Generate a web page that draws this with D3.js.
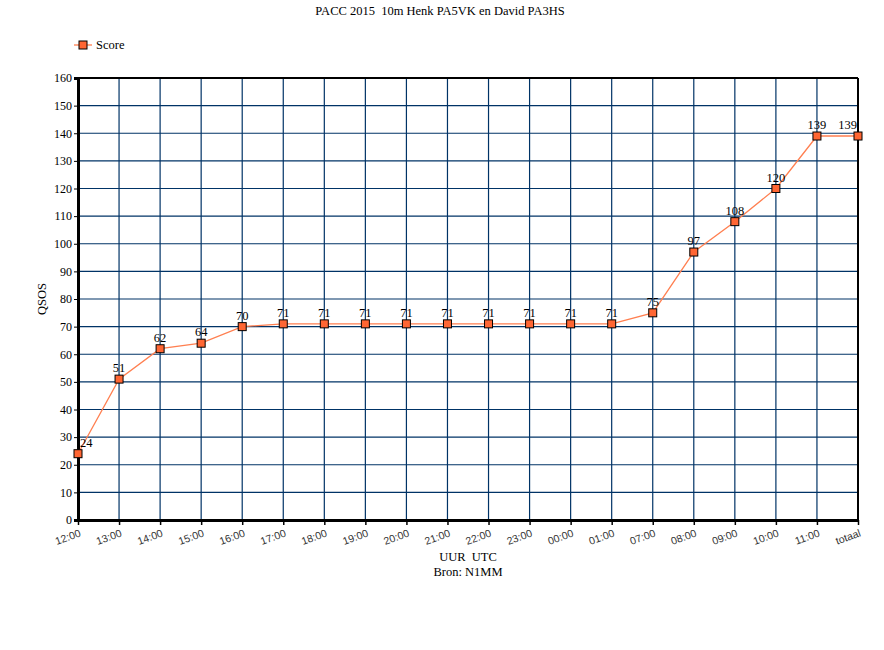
<!DOCTYPE html>
<html><head><meta charset="utf-8">
<script src="https://cdn.jsdelivr.net/npm/d3@7"></script>
<style>body{margin:0;background:#fff}svg{display:block}text{white-space:pre}</style>
</head><body>
<svg id="c" width="884" height="650"></svg>
<script>
const categories = ["12:00","13:00","14:00","15:00","16:00","17:00","18:00","19:00","20:00","21:00","22:00","23:00","00:00","01:00","07:00","08:00","09:00","10:00","11:00","totaal"];
const scores = [24,51,62,64,70,71,71,71,71,71,71,71,71,71,75,97,108,120,139,139];
const yTicks = d3.range(0,161,10);
const title = "PACC 2015  10m Henk PA5VK en David PA3HS";
const seriesName = "Score";

const svg = d3.select("#c");
const L=78,R=858,T=78,B=520;
const serif = "'Liberation Serif','DejaVu Serif',serif";
const x = d3.scalePoint().domain(categories).range([L,R]);
const y = d3.scaleLinear().domain([0,160]).range([B,T]);
const gridC = "#003366";

// grid
svg.append("g").selectAll("line").data(yTicks.filter(v=>v>0&&v<160)).join("line")
  .attr("x1",L).attr("x2",R).attr("y1",d=>y(d)).attr("y2",d=>y(d))
  .attr("stroke",gridC).attr("stroke-width",1.2);
svg.append("g").selectAll("line").data(categories.slice(1,-1)).join("line")
  .attr("x1",d=>x(d)).attr("x2",d=>x(d)).attr("y1",T).attr("y2",B)
  .attr("stroke",gridC).attr("stroke-width",1.2);
// frame
svg.append("line").attr("x1",L).attr("x2",R).attr("y1",T).attr("y2",T).attr("stroke","#000").attr("stroke-width",2);
svg.append("line").attr("x1",R).attr("x2",R).attr("y1",T).attr("y2",B).attr("stroke","#000").attr("stroke-width",2);

// y axis
const ya = svg.append("g").attr("transform",`translate(${L},0)`)
  .call(d3.axisLeft(y).tickValues(yTicks).tickSize(4).tickPadding(2).tickFormat(d3.format("d")));
ya.select(".domain").attr("stroke","#000").attr("stroke-width",3);
ya.selectAll(".tick line").attr("stroke","#000");
ya.selectAll("text").attr("font-family",serif).attr("font-size",12).attr("fill","#000");

// x axis
const xa = svg.append("g").attr("transform",`translate(0,${B})`)
  .call(d3.axisBottom(x).tickSize(5).tickSizeOuter(0));
xa.select(".domain").attr("stroke","#000").attr("stroke-width",3);
xa.selectAll(".tick line").attr("stroke","#000").attr("stroke-width",1.5);
xa.selectAll("text").attr("font-family","'Liberation Sans',Arial,sans-serif").attr("font-size",10.5).attr("fill","#333")
  .attr("text-anchor","end").attr("dy",null).attr("y",0)
  .attr("transform","translate(3,16) rotate(-20)");

// line
svg.append("path").datum(scores)
  .attr("d",d3.line().x((d,i)=>x(categories[i])).y(d=>y(d)))
  .attr("fill","none").attr("stroke","#FF7F50").attr("stroke-width",1.3);

// markers
svg.append("g").selectAll("rect").data(scores).join("rect")
  .attr("x",(d,i)=>x(categories[i])-4).attr("y",d=>y(d)-4)
  .attr("width",8).attr("height",8)
  .attr("fill","#FF6633").attr("stroke","#000").attr("stroke-width",1);

// labels
const lbl = svg.append("g").selectAll("text").data(scores).join("text")
  .attr("font-family",serif).attr("font-size",12.5).attr("fill","#000")
  .attr("text-anchor","middle").attr("y",d=>y(d)-7).text(d=>d);
lbl.each(function(d,i){
  const w=this.getComputedTextLength();
  const cx=Math.max(L+w/2+2,Math.min(R-w/2-1,x(categories[i])));
  d3.select(this).attr("x",cx);
});

// title
svg.append("text").attr("x",440).attr("y",15).attr("text-anchor","middle")
  .attr("font-family",serif).attr("font-size",12.5).text(title);

// legend
svg.append("line").attr("x1",74).attr("x2",92).attr("y1",45).attr("y2",45).attr("stroke","#FF7F50").attr("stroke-width",1.3);
svg.append("rect").attr("x",79).attr("y",41).attr("width",8).attr("height",8).attr("fill","#FF6633").attr("stroke","#000");
svg.append("text").attr("x",96).attr("y",49).attr("font-family",serif).attr("font-size",12.5).text(seriesName);

// axis titles
svg.append("text").attr("transform","translate(46,299) rotate(-90)").attr("text-anchor","middle")
  .attr("font-family",serif).attr("font-size",12.5).text("QSOS");
svg.append("text").attr("x",468).attr("y",561).attr("text-anchor","middle")
  .attr("font-family",serif).attr("font-size",12.5).text("UUR  UTC");
svg.append("text").attr("x",468).attr("y",576).attr("text-anchor","middle")
  .attr("font-family",serif).attr("font-size",12.5).text("Bron: N1MM");
</script>
</body></html>
